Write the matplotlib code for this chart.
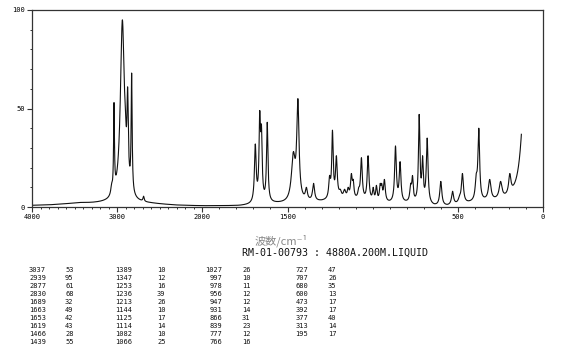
import numpy as np
import matplotlib
matplotlib.use('Agg')
import matplotlib.pyplot as plt
from matplotlib.ticker import FixedLocator, MultipleLocator

# ---- peak table (printed under the chart) ----
table_wn = [3037, 2939, 2877, 2830, 1689, 1663, 1653, 1619, 1466, 1439,
            1389, 1347, 1253, 1236, 1213, 1144, 1125, 1114, 1082, 1066,
            1027, 997, 978, 956, 947, 931, 866, 839, 777, 766,
            727, 707, 680, 600, 473, 392, 377, 313, 195]
table_int = [53, 95, 61, 68, 32, 49, 42, 43, 28, 55,
             10, 12, 16, 39, 26, 10, 17, 14, 10, 25,
             26, 10, 11, 12, 12, 14, 31, 23, 12, 16,
             47, 26, 35, 13, 17, 17, 40, 14, 17]
# band half-widths (cm-1)
table_hwhm = [6, 28, 9, 7, 6, 5, 5, 5, 13, 8,
              7, 7, 6, 5, 6, 6, 6, 5, 6, 6,
              6, 5, 5, 5, 5, 6, 6, 6, 6, 5,
              5, 5, 6, 7, 7, 7, 6, 9, 8]

# unlisted bands visible in the curve
extra_wn = [3065, 2905, 2690, 1495, 1190, 1165, 531, 490, 249]
extra_int = [12, 52, 5.5, 6, 9, 9, 8, 6, 13]
extra_hwhm = [12, 10, 8, 10, 8, 8, 7, 8, 10]

# background level
base_wn = [4000, 3800, 3600, 3450, 3300, 3150, 2600, 2300, 2000, 1780, 1720,
           1600, 1500, 1400, 1300, 1200, 1100, 1000, 900, 800, 700, 640,
           560, 480, 420, 340, 280, 225, 124]
base_int = [0.8, 1.0, 1.5, 2.0, 1.8, 1.8, 1.5, 0.8, 0.5, 0.5, 0.8,
            1.5, 1.5, 2.0, 2.5, 3.5, 3.0, 2.0, 1.5, 1.5, 1.0, 0.0,
            0.0, 1.0, 1.5, 2.0, 2.0, 2.0, 2.0]

# Rayleigh wing at the low-wavenumber end
wing_center, wing_amp, wing_hwhm = 100, 75, 25

wn_start, wn_end = 4000, 127

# ---- build curve ----
wn = np.arange(wn_start, wn_end - 0.5, -1.0)
bx = np.array(base_wn[::-1], float)
by = np.array(base_int[::-1], float)


def background(w):
    w = np.asarray(w, float)
    return np.interp(w, bx, by) + wing_amp / (1 + ((w - wing_center) / wing_hwhm) ** 2)


centers = np.array(table_wn + extra_wn, float)
heights = np.array(table_int + extra_int, float)
widths = np.array(table_hwhm + extra_hwhm, float)

M = 1.0 / (1 + ((centers[:, None] - centers[None, :]) / widths[None, :]) ** 2)
target = heights - background(centers)
amps = np.maximum(target, 0)
off = M - np.eye(len(centers))
for _ in range(500):
    amps = np.maximum(target - off @ amps, 0)

spec = background(wn) + (amps[None, :] / (1 + ((wn[:, None] - centers[None, :]) / widths[None, :]) ** 2)).sum(axis=1)

# ---- figure ----
W, H = 570, 346
fig = plt.figure(figsize=(W / 100, H / 100), dpi=100)
ax = fig.add_axes([32 / W, 1 - 207 / H, 511 / W, 197 / H])


def fwd(w):
    w = np.asarray(w, float)
    return np.where(w <= 2000, w, 2000 + (w - 2000) / 2)


def inv(u):
    u = np.asarray(u, float)
    return np.where(u <= 2000, u, 2000 + (u - 2000) * 2)


ax.set_xscale('function', functions=(fwd, inv))
ax.plot(wn, spec, color='#111111', lw=0.8)
ax.set_xlim(4000, 0)
ax.set_ylim(0, 100)

mono = 'DejaVu Sans Mono'
xt = [4000, 3000, 2000, 1500, 500, 0]
ax.xaxis.set_major_locator(FixedLocator(xt))
ax.set_xticklabels([str(v) for v in xt], family=mono, fontsize=5)
ax.xaxis.set_minor_locator(FixedLocator(list(range(0, 4001, 100))))
ax.yaxis.set_major_locator(FixedLocator([0, 50, 100]))
ax.set_yticklabels(['0', '50', '100'], family=mono, fontsize=5)
ax.yaxis.set_minor_locator(MultipleLocator(10))
ax.tick_params(which='major', direction='out', length=3.6, width=0.8, pad=1.5, color='#333333')
ax.tick_params(which='minor', direction='out', length=1.6, width=0.7, color='#333333')
for s in ax.spines.values():
    s.set_color('#333333')
    s.set_linewidth(0.9)

fig.text(281 / W, 1 - 241 / H, '波数/cm⁻¹', ha='center', va='center',
         family=['Noto Sans CJK JP', 'DejaVu Sans'], fontsize=8, color='#888888')
fig.text(242 / W, 1 - 252.5 / H, 'RM-01-00793 : 4880A.200M.LIQUID', ha='left', va='center',
         family=mono, fontsize=7.2, color='#111111')

# peak table
col_wn_right = [46, 132, 222, 308]
col_int_left = [65, 157, 242, 328]
for i, (w_, v_) in enumerate(zip(table_wn, table_int)):
    g, r = divmod(i, 10)
    y = 1 - (270 + 8 * r) / H
    fig.text(col_wn_right[g] / W, y, str(w_), ha='right', va='center', family=mono, fontsize=5, color='#111111')
    fig.text(col_int_left[g] / W, y, str(v_), ha='left', va='center', family=mono, fontsize=5, color='#111111')

fig.savefig('out.png', dpi=100)
